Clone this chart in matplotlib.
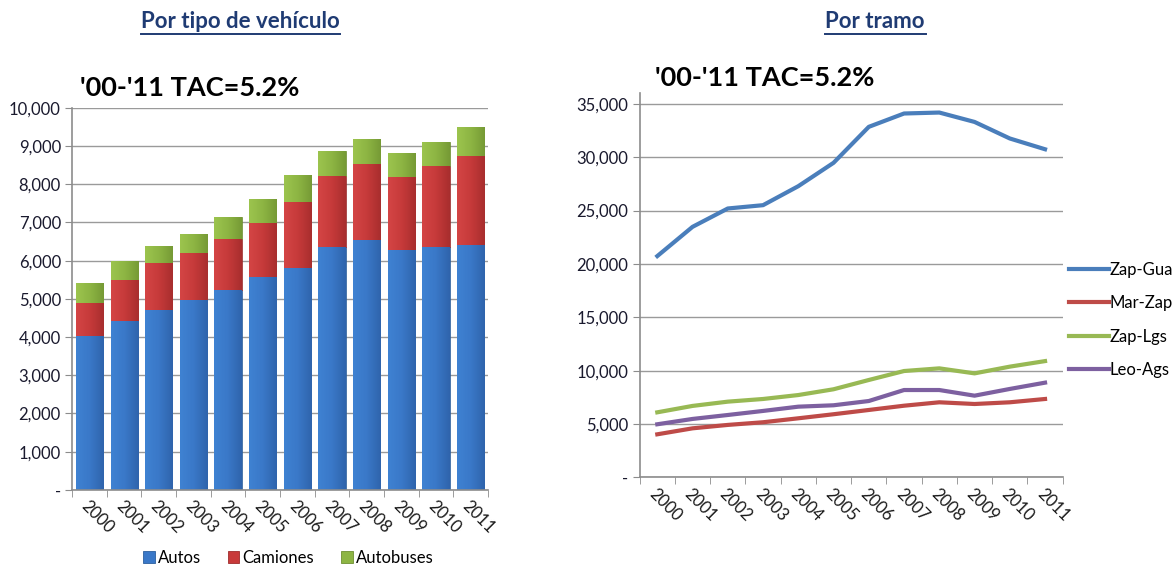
import matplotlib
matplotlib.use("Agg")
import matplotlib.pyplot as plt
import numpy as np
from matplotlib.colors import LinearSegmentedColormap
from matplotlib.ticker import FuncFormatter, MultipleLocator

plt.rcParams['font.family'] = ['Lato', 'DejaVu Sans']

# data
years = ['2000', '2001', '2002', '2003', '2004', '2005', '2006', '2007', '2008', '2009', '2010', '2011']
autos = [4030, 4420, 4710, 4960, 5240, 5570, 5810, 6350, 6530, 6290, 6360, 6400]
camiones = [870, 1080, 1230, 1240, 1340, 1420, 1720, 1870, 2000, 1900, 2120, 2350]
autobuses = [520, 480, 440, 500, 560, 620, 710, 650, 650, 640, 630, 760]

zap_gua = [20740, 23480, 25200, 25510, 27290, 29480, 32850, 34100, 34190, 33310, 31760, 30750]
mar_zap = [4040, 4600, 4920, 5170, 5540, 5920, 6320, 6720, 7040, 6880, 7040, 7350]
zap_lgs = [6100, 6700, 7100, 7350, 7720, 8260, 9130, 9970, 10220, 9750, 10380, 10900]
leo_ags = [4980, 5480, 5850, 6230, 6630, 6760, 7160, 8190, 8190, 7660, 8290, 8880]

title_color = '#1F3B73'
grid_color = '#9A9A9A'


def fmt(v, pos):
    if v == 0:
        return '-'
    return f'{v:,.0f}'


def style_axes(ax, n):
    ax.set_xlim(-0.5, n - 0.5)
    for s in ['top', 'right']:
        ax.spines[s].set_visible(False)
    for s in ['left', 'bottom']:
        ax.spines[s].set_color('#8C8C8C')
        ax.spines[s].set_linewidth(1.2)
    ax.yaxis.grid(True, color=grid_color, linewidth=1.0)
    ax.set_axisbelow(True)
    ax.yaxis.set_major_formatter(FuncFormatter(fmt))
    ax.tick_params(axis='y', length=5, color='#8C8C8C', labelsize=12, labelcolor='#1a1a2e', pad=3)
    # tick marks between categories, labels at category centers
    ax.set_xticks(np.arange(-0.5, n, 1.0), minor=True)
    ax.set_xticks(np.arange(n))
    ax.tick_params(axis='x', which='minor', length=5, color='#8C8C8C')
    ax.tick_params(axis='x', which='major', length=0, pad=6)
    ax.set_xticklabels(years, rotation=-45, ha='left', va='top',
                       rotation_mode='anchor', fontsize=12, color='#1a1a1a')


def shade(ax, bars, light, mid, dark):
    # excel-like horizontal gradient inside every bar
    cmap = LinearSegmentedColormap.from_list('g', [light, mid, dark])
    grad = np.linspace(0, 1, 64).reshape(1, -1)
    for b in bars:
        x0, y0 = b.get_x(), b.get_y()
        im = ax.imshow(grad, cmap=cmap, aspect='auto', zorder=b.get_zorder(),
                       extent=[x0, x0 + b.get_width(), y0, y0 + b.get_height()])
        im.set_clip_path(b)
        b.set_facecolor('none')


fig = plt.figure(figsize=(11.75, 5.65), dpi=100)

# left: stacked bars
ax1 = fig.add_axes([0.0613, 0.133, 0.354, 0.676])
x = np.arange(len(years))
autos_a = np.array(autos)
cam_a = np.array(camiones)
bus_a = np.array(autobuses)
w = 0.78
b1 = ax1.bar(x, autos_a, w, color='#3A78C8', edgecolor='#2C5F9E', linewidth=0.6, label='Autos')
b2 = ax1.bar(x, cam_a, w, bottom=autos_a, color='#C83A3A', edgecolor='#9E2C2C', linewidth=0.6, label='Camiones')
b3 = ax1.bar(x, bus_a, w, bottom=autos_a + cam_a, color='#8DB543', edgecolor='#6E8F31', linewidth=0.6, label='Autobuses')
shade(ax1, b1, '#3F82D2', '#3A78C8', '#2F64AC')
shade(ax1, b2, '#D44545', '#C63A3A', '#A82E2E')
shade(ax1, b3, '#9CC44E', '#8DB543', '#769A35')
ax1.set_ylim(0, 10000)
ax1.yaxis.set_major_locator(MultipleLocator(1000))
style_axes(ax1, len(years))
leg1 = ax1.legend(loc='center', bbox_to_anchor=(0.52, -0.178), ncol=3, frameon=False,
                  fontsize=12, handlelength=0.7, handleheight=0.7, handletextpad=0.2,
                  columnspacing=1.6, borderaxespad=0)
for h, c in zip(leg1.legend_handles, ['#3A78C8', '#C83A3A', '#8DB543']):
    h.set_facecolor(c)

# right: lines
ax2 = fig.add_axes([0.5444, 0.155, 0.36, 0.68])
ax2.plot(x, zap_gua, color='#4A7EBB', linewidth=3, label='Zap-Gua')
ax2.plot(x, mar_zap, color='#BE4B48', linewidth=3, label='Mar-Zap')
ax2.plot(x, zap_lgs, color='#98B954', linewidth=3, label='Zap-Lgs')
ax2.plot(x, leo_ags, color='#7D60A0', linewidth=3, label='Leo-Ags')
ax2.set_ylim(0, 36000)
ax2.set_yticks(np.arange(0, 35001, 5000))
style_axes(ax2, len(years))
ax2.legend(loc='center left', bbox_to_anchor=(1.0, 0.41), frameon=False, fontsize=12,
           handlelength=2.4, handletextpad=0.0, labelspacing=1.05, borderaxespad=0)

# headers
fig.text(240 / 1175, 1 - 22 / 565, 'Por tipo de vehículo', ha='center', va='center',
         fontsize=16, fontweight='bold', color=title_color)
fig.text(875 / 1175, 1 - 22 / 565, 'Por tramo', ha='center', va='center',
         fontsize=16, fontweight='bold', color=title_color)
fig.add_artist(plt.Line2D([141 / 1175, 340 / 1175], [1 - 34 / 565] * 2, color=title_color, linewidth=1.4))
fig.add_artist(plt.Line2D([825 / 1175, 926 / 1175], [1 - 34 / 565] * 2, color=title_color, linewidth=1.4))

fig.text(80 / 1175, 1 - 88 / 565, "'00-'11 TAC=5.2%", ha='left', va='center',
         fontsize=19.5, fontweight='bold', color='black')
fig.text(655 / 1175, 1 - 78 / 565, "'00-'11 TAC=5.2%", ha='left', va='center',
         fontsize=19.5, fontweight='bold', color='black')

fig.savefig('out.png', dpi=100)
